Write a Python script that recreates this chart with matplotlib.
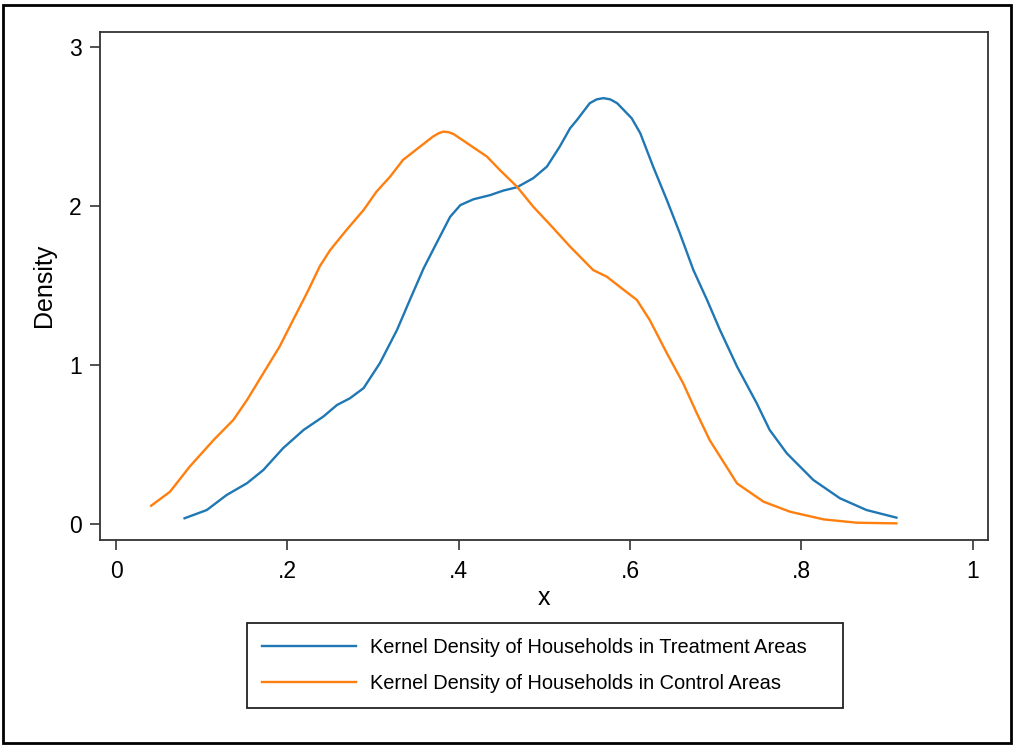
import matplotlib
matplotlib.use("Agg")
import matplotlib.pyplot as plt
from matplotlib.patches import Rectangle

plt.rcParams['font.family'] = ['Liberation Sans', 'DejaVu Sans']

# Treatment areas kernel density
treat_x = [0.080, 0.106, 0.129, 0.153, 0.172, 0.195, 0.219, 0.242, 0.258, 0.273,
           0.289, 0.308, 0.328, 0.343, 0.359, 0.374, 0.390, 0.402, 0.417, 0.437,
           0.452, 0.468, 0.487, 0.503, 0.518, 0.530, 0.538, 0.553, 0.561, 0.569,
           0.577, 0.585, 0.602, 0.612, 0.627, 0.643, 0.658, 0.674, 0.690, 0.705,
           0.725, 0.748, 0.763, 0.783, 0.814, 0.845, 0.876, 0.911]
treat_y = [0.036, 0.088, 0.182, 0.257, 0.340, 0.477, 0.592, 0.676, 0.749, 0.791,
           0.855, 1.012, 1.221, 1.410, 1.608, 1.766, 1.933, 2.007, 2.043, 2.070,
           2.098, 2.119, 2.176, 2.249, 2.375, 2.490, 2.542, 2.648, 2.672, 2.680,
           2.672, 2.648, 2.553, 2.459, 2.249, 2.039, 1.832, 1.598, 1.409, 1.221,
           0.990, 0.759, 0.592, 0.445, 0.277, 0.162, 0.088, 0.040]

# Control areas kernel density
ctrl_x = [0.041, 0.063, 0.086, 0.114, 0.137, 0.153, 0.172, 0.191, 0.207, 0.223,
          0.238, 0.250, 0.269, 0.289, 0.304, 0.320, 0.335, 0.355, 0.370, 0.377,
          0.382, 0.388, 0.394, 0.413, 0.433, 0.448, 0.468, 0.487, 0.507, 0.530,
          0.538, 0.557, 0.573, 0.588, 0.608, 0.623, 0.643, 0.662, 0.678, 0.693,
          0.725, 0.756, 0.787, 0.826, 0.865, 0.911]
ctrl_y = [0.115, 0.203, 0.361, 0.529, 0.655, 0.781, 0.949, 1.117, 1.287, 1.455,
          1.623, 1.724, 1.850, 1.976, 2.091, 2.186, 2.291, 2.375, 2.438, 2.460,
          2.469, 2.466, 2.454, 2.385, 2.312, 2.228, 2.123, 1.997, 1.882, 1.746,
          1.702, 1.598, 1.556, 1.493, 1.410, 1.284, 1.075, 0.886, 0.697, 0.528,
          0.255, 0.140, 0.077, 0.029, 0.008, 0.004]

x_ticks = [0, 0.2, 0.4, 0.6, 0.8, 1.0]
x_tick_labels = ['0', '.2', '.4', '.6', '.8', '1']
y_ticks = [0, 1, 2, 3]
y_tick_labels = ['0', '1', '2', '3']
series_labels = ['Kernel Density of Households in Treatment Areas',
                 'Kernel Density of Households in Control Areas']

W, H = 1016, 746
fig = plt.figure(figsize=(W / 100, H / 100), dpi=100)
ax = fig.add_axes([100 / W, 1 - 540 / H, 888 / W, 508.3 / H])

ax.plot(treat_x, treat_y, color='#1f77b4', lw=1.7, label=series_labels[0],
        solid_joinstyle='round')
ax.plot(ctrl_x, ctrl_y, color='#ff7f0e', lw=1.7, label=series_labels[1],
        solid_joinstyle='round')

ax.set_xlim(-0.0187, 1.0179)
ax.set_ylim(-0.1007, 3.098)
ax.set_xticks(x_ticks)
ax.set_xticklabels(x_tick_labels)
ax.set_yticks(y_ticks)
ax.set_yticklabels(y_tick_labels)
ax.tick_params(axis='both', direction='out', length=7.2, width=1.2,
               color='#333333', labelsize=16.5)
ax.tick_params(axis='x', pad=7)
ax.tick_params(axis='y', pad=6)
for s in ax.spines.values():
    s.set_linewidth(1.3)
    s.set_color('#333333')

ax.set_xlabel('x', fontsize=18)
ax.set_ylabel('Density', fontsize=18)
ax.xaxis.set_label_coords(0.5, (540 - 598) / 508.3)
ax.xaxis.label.set_va('center')
ax.yaxis.set_label_coords((44.5 - 100) / 888, 0.5)
ax.yaxis.label.set_va('center')

leg = ax.legend(loc='center', bbox_to_anchor=(246.7 / W, 1 - 706.7 / H, 596 / W, 82.7 / H),
                bbox_transform=fig.transFigure, mode='expand',
                fontsize=14.4, frameon=True, fancybox=False, framealpha=1,
                edgecolor='#222222', handlelength=4.7, handletextpad=0.7,
                borderpad=0.75, labelspacing=0.85, borderaxespad=0)
leg.get_frame().set_linewidth(1.3)

fig.patches.append(Rectangle((3 / W, 3.5 / H), 1008 / W, 738 / H,
                             transform=fig.transFigure, fill=False,
                             edgecolor='black', linewidth=2.0))

fig.savefig('out.png', dpi=100)
